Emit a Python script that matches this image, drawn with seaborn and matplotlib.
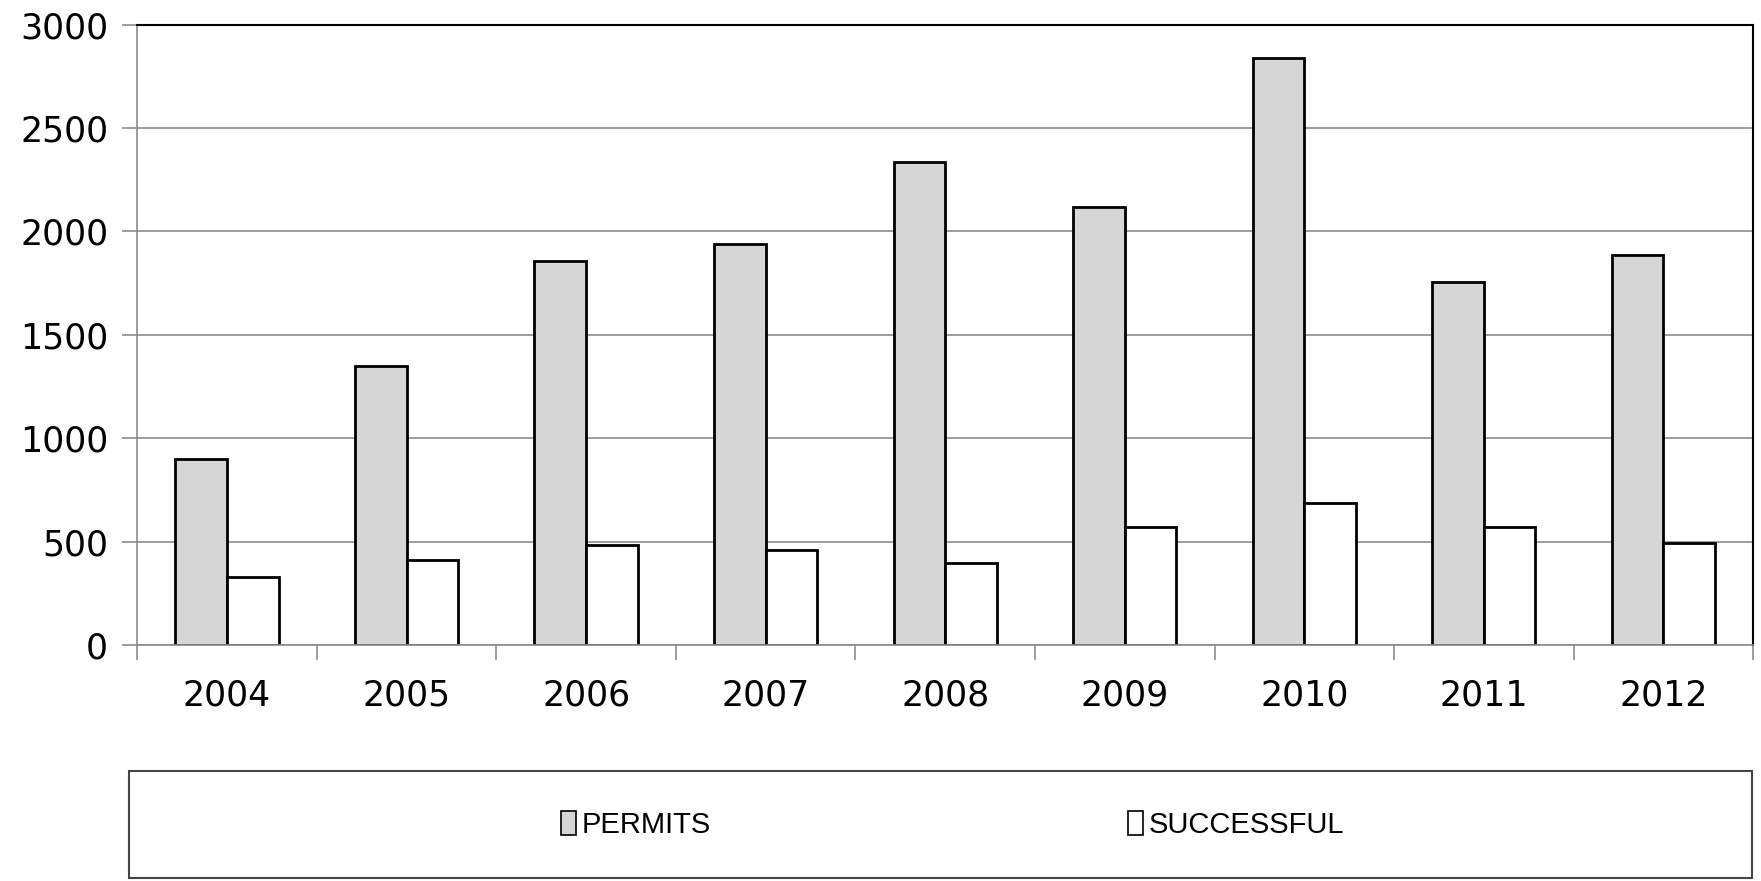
import pandas as pd
import numpy as np
import matplotlib
matplotlib.use('Agg')
import matplotlib.pyplot as plt
from matplotlib.patches import Rectangle
from matplotlib.ticker import FixedLocator
import seaborn as sns

years = ['2004', '2005', '2006', '2007', '2008', '2009', '2010', '2011', '2012']
permits = [900, 1350, 1855, 1940, 2335, 2120, 2840, 1757, 1885]
successful = [330, 410, 483, 460, 397, 568, 688, 568, 495]
series = ['PERMITS', 'SUCCESSFUL']
colors = ['#d6d6d6', '#ffffff']

df = pd.DataFrame({
    'Year': years * 2,
    'Value': permits + successful,
    'Series': [series[0]] * len(years) + [series[1]] * len(years),
})

sns.set_style('white')
plt.rcParams['font.family'] = ['DejaVu Sans']

fig = plt.figure(figsize=(17.61, 8.81), dpi=100)
ax = fig.add_axes([0.078, 0.268, 0.9175, 0.704])

sns.barplot(data=df, x='Year', y='Value', hue='Series', order=years,
            hue_order=series, palette=colors, edgecolor='black',
            linewidth=2, width=0.576, gap=0, saturation=1, ax=ax, legend=False)

ax.set_ylim(0, 3000)
ax.set_xlim(-0.5, len(years) - 0.5)
ax.set_yticks(np.arange(0, 3001, 500))
ax.yaxis.grid(True, color='#8c8c8c', linewidth=1.2)
ax.set_axisbelow(True)
ax.set_xlabel('')
ax.set_ylabel('')

ax.xaxis.set_minor_locator(FixedLocator(np.arange(-0.5, len(years), 1.0)))
ax.tick_params(axis='x', which='major', bottom=True, length=0, pad=24, labelsize=25)
ax.tick_params(axis='x', which='minor', bottom=True, length=11, width=1.2,
               color='#8c8c8c', direction='out')
ax.tick_params(axis='y', left=True, length=11, width=1.2, color='#8c8c8c',
               pad=10, labelsize=25, direction='out')
ax.tick_params(axis='both', labelcolor='black')

for side in ['left', 'bottom']:
    ax.spines[side].set_color('#8c8c8c')
    ax.spines[side].set_linewidth(1.2)
for side in ['top', 'right']:
    ax.spines[side].set_color('black')
    ax.spines[side].set_linewidth(1.5)

# legend box below the chart
box = Rectangle((0.073, 0.003), 0.922, 0.122, transform=fig.transFigure,
                facecolor='white', edgecolor='#444444', linewidth=1.5)
fig.patches.append(box)
handles = [Rectangle((0, 0), 1, 1, facecolor=c, edgecolor='black', linewidth=1.2) for c in colors]
fig.legend(handles, series, loc='center', bbox_to_anchor=(0.541, 0.064), ncol=2,
           frameon=False, handlelength=0.5, handleheight=0.9, handletextpad=0.2,
           columnspacing=14.3, labelcolor='black',
           prop={'family': ['Liberation Sans'], 'size': 21})

fig.savefig('out.png', dpi=100, facecolor='white')
